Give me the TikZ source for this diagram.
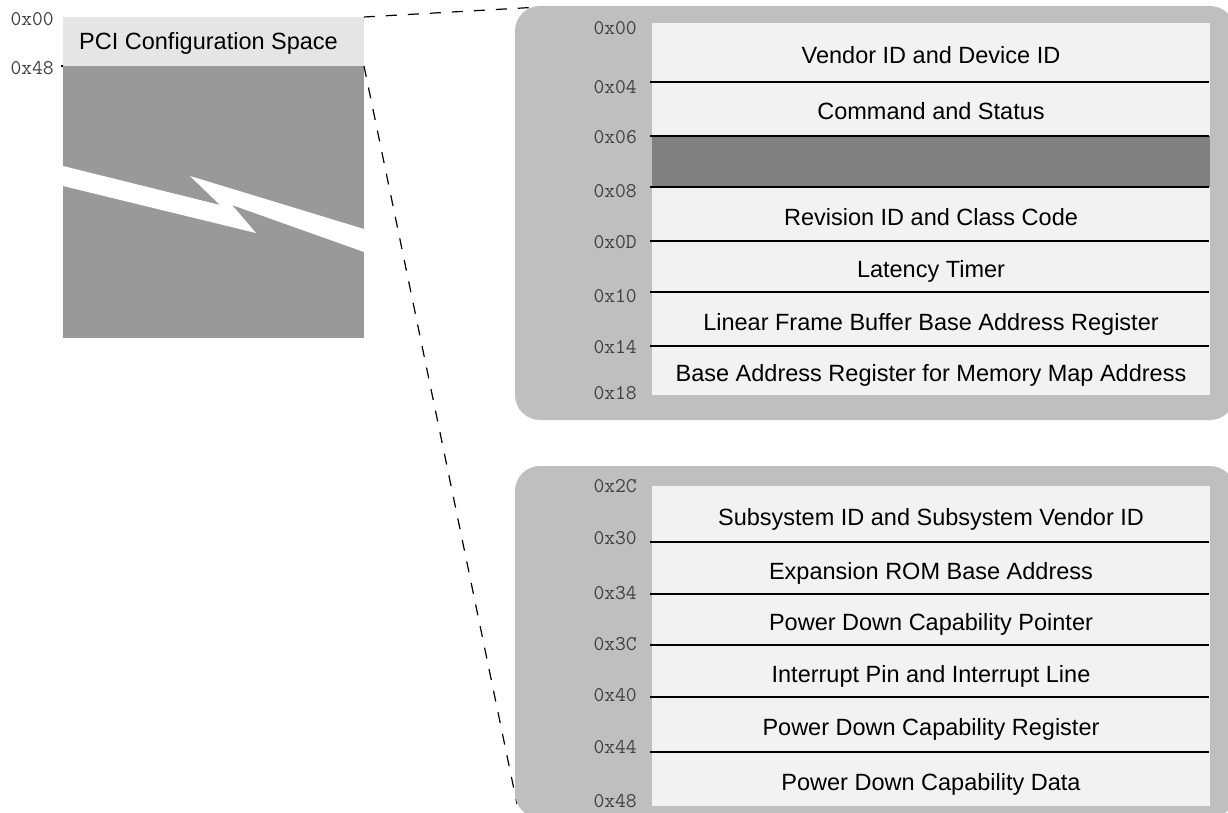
\documentclass[tikz,border=0pt]{standalone}
\usepackage{fontspec}
\setmainfont{Liberation Sans}
\usepackage{tikz}

\definecolor{panelgray}{HTML}{BFBFBF}
\definecolor{rowgray}{HTML}{F2F2F2}
\definecolor{darkrow}{HTML}{808080}
\definecolor{spacelight}{HTML}{E5E5E5}
\definecolor{spacedark}{HTML}{999999}
\definecolor{offsetgray}{HTML}{404040}

\begin{document}
\begin{tikzpicture}[x=1pt,y=-1pt,
  offset/.style={anchor=east,inner sep=0pt,text=offsetgray,font=\ttfamily\fontsize{21}{21}\selectfont},
  field/.style={anchor=base,inner sep=0pt,font=\fontsize{23.5}{26}\selectfont},
  sep/.style={black,line width=1.4pt},
  zoomline/.style={black,line width=1.2pt,dash pattern=on 11pt off 11pt}]

\useasboundingbox (0,0) rectangle (1228,813);

% whole configuration space, left
\fill[spacelight] (63,17) rectangle (364,66);
\fill[spacedark] (63,66) rectangle (364,338);
\fill[white] (63,166) -- (220,205) -- (190,176) -- (364,229) -- (364,252)
  -- (232,205) -- (256,233) -- (63,186) -- cycle;
\node[field,anchor=base west] (pcs) at (79,50) {PCI Configuration Space};
\node[offset] (left00) at (54,19) {0x00};
\node[offset] (left48) at (54,68) {0x48};
\draw[sep] (61,66) -- (63,66);

\coordinate (pcstop) at (364,17);
\coordinate (pcsbot) at (364,66);
\coordinate (upperend) at (540,7);
\coordinate (lowerend) at (517,804);

% zoom lines
\draw[zoomline] (pcstop) -- (upperend);
\draw[zoomline] (pcsbot) -- (lowerend);

% panels
\fill[panelgray,rounded corners=25pt] (515,6) rectangle (1235,420);
\fill[panelgray,rounded corners=25pt] (515,466) rectangle (1235,818);
\fill[rowgray] (652,23) rectangle (1210,395);
\fill[darkrow] (652,136) rectangle (1210,187);
\fill[rowgray] (652,486) rectangle (1210,806);

\foreach \y in {82,136,187,241,292,346,542,594,645,697,752}
  \draw[sep] (650,\y) -- (1209,\y);

% offsets
\foreach \y/\t in {28/0x00,87/0x04,137/0x06,191/0x08,242/0x0D,296/0x10,347/0x14,393/0x18,
                   486/0x2C,538/0x30,593/0x34,644/0x3C,695/0x40,747/0x44,801/0x48}
  \node[offset] (off\t) at (637,\y) {\t};

% register fields
\foreach \y/\t [count=\i] in {63.5/Vendor ID and Device ID,
    120/Command and Status,
    225/Revision ID and Class Code,
    277.5/Latency Timer,
    330/Linear Frame Buffer Base Address Register,
    381.5/Base Address Register for Memory Map Address,
    525/Subsystem ID and Subsystem Vendor ID,
    579/Expansion ROM Base Address,
    630.5/Power Down Capability Pointer,
    682/Interrupt Pin and Interrupt Line,
    735.5/Power Down Capability Register,
    790/Power Down Capability Data}
  \node[field] (reg\i) at (931,\y) {\t};

\end{tikzpicture}
\end{document}
